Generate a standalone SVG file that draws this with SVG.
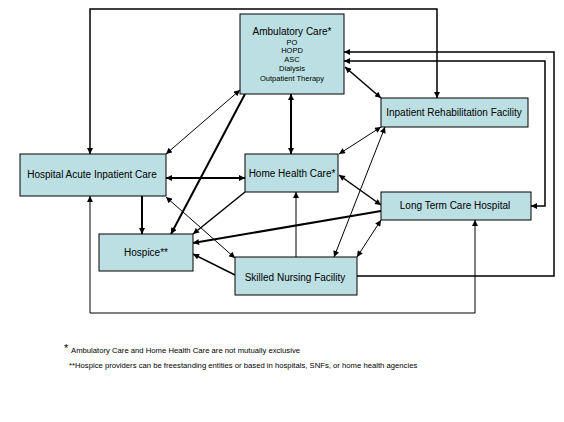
<svg xmlns="http://www.w3.org/2000/svg" width="564" height="422" viewBox="0 0 564 422">
<style>
.box{fill:#BBDFE3;stroke:#000;stroke-width:1}
.t{font-family:"Liberation Sans",Arial,sans-serif;font-size:10px;fill:#000;text-anchor:middle}
.s{font-family:"Liberation Sans",Arial,sans-serif;font-size:7.5px;fill:#000;text-anchor:middle}
.f{font-family:"Liberation Sans",Arial,sans-serif;font-size:7.7px;fill:#000}
.c{fill:none;stroke:#000;stroke-width:1}
.m{stroke-width:1.5}
.k{stroke-width:2}
.b{marker-start:url(#ah);marker-end:url(#ah)}
.e{marker-end:url(#ah)}
</style>
<defs>
<marker id="ah" viewBox="0 0 10 10" refX="10" refY="5" markerWidth="7" markerHeight="6" markerUnits="userSpaceOnUse" orient="auto-start-reverse">
<path d="M0,0 L10,5 L0,10 z" fill="#000"/>
</marker>
</defs>
<rect width="564" height="422" fill="#fff"/>
<g id="connectors">
<path class="c m b" d="M437,98 L437,9 L90,9 L90,154"/>
<path class="c b" d="M90,196 L90,313 L475,313 L475,220"/>
<path class="c m e" d="M357,276 L554,276 L554,52 L344,52"/>
<path class="c m b" d="M531,206 L545,206 L545,61 L344,61"/>
<path class="c m b" d="M345,67 L381,98"/>
<path class="c b" d="M240,90 L166,154"/>
<path class="c k e" d="M245,94 L171,234"/>
<path class="c k b" d="M291,94 L291,154"/>
<path class="c k b" d="M166,178 L245,178"/>
<path class="c k e" d="M142,196 L142,234"/>
<path class="c m e" d="M245,192 L193,234"/>
<path class="c k e" d="M381,211 L193,243"/>
<path class="c m e" d="M235,275 L193,254"/>
<path class="c b" d="M166,197 L235,258"/>
<path class="c e" d="M296,257 L296,192"/>
<path class="c m b" d="M339,175 L381,205"/>
<path class="c b" d="M339,154 L381,127"/>
<path class="c b" d="M334,257 L385,127"/>
<path class="c b" d="M357,257 L381,220"/>
</g>
<g id="ambulatory">
<rect class="box" x="240" y="14" width="104" height="80"/>
<text class="t" x="292" y="35">Ambulatory Care*</text>
<text class="s" x="292" y="45">PO</text>
<text class="s" x="292" y="53">HOPD</text>
<text class="s" x="292" y="62">ASC</text>
<text class="s" x="292" y="71">Dialysis</text>
<text class="s" x="292" y="81">Outpatient Therapy</text>
</g>
<g id="irf">
<rect class="box" x="381" y="98" width="147" height="29"/>
<text class="t" x="454" y="116">Inpatient Rehabilitation Facility</text>
</g>
<g id="hospital">
<rect class="box" x="20" y="154" width="146" height="42"/>
<text class="t" x="92" y="178">Hospital Acute Inpatient Care</text>
</g>
<g id="homehealth">
<rect class="box" x="245" y="154" width="93" height="38"/>
<text class="t" x="292" y="177">Home Health Care*</text>
</g>
<g id="ltch">
<rect class="box" x="381" y="192" width="150" height="28"/>
<text class="t" x="455" y="209">Long Term Care Hospital</text>
</g>
<g id="hospice">
<rect class="box" x="99" y="234" width="94" height="37"/>
<text class="t" x="146" y="256">Hospice**</text>
</g>
<g id="snf">
<rect class="box" x="235" y="257" width="122" height="38"/>
<text class="t" x="295" y="281">Skilled Nursing Facility</text>
</g>
<g id="footnotes">
<text class="f" x="64" y="352" style="font-size:11px">*</text>
<text class="f" x="71" y="353">Ambulatory Care and Home Health Care are not mutually exclusive</text>
<text class="f" x="69" y="368">**Hospice providers can be freestanding entities or based in hospitals, SNFs, or home health agencies</text>
</g>
</svg>
